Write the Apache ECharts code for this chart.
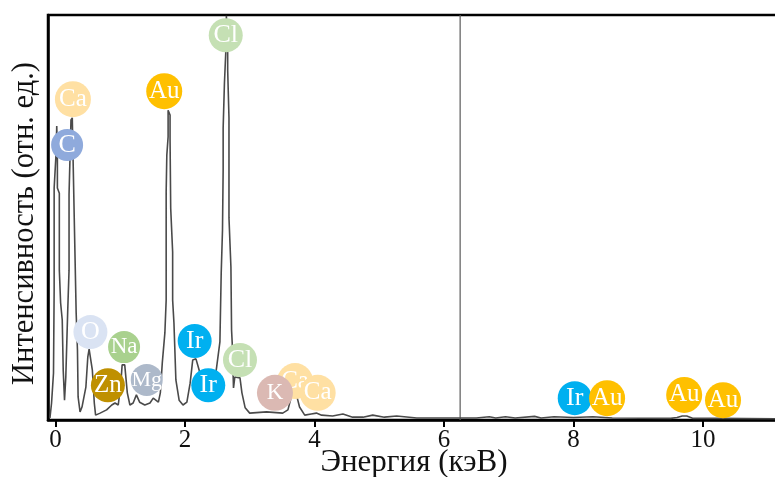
<!DOCTYPE html>
<html><head><meta charset="utf-8">
<style>html,body{margin:0;padding:0;background:#fff}#c{width:775px;height:477px}</style>
<script src="https://cdn.jsdelivr.net/npm/echarts@6/dist/echarts.min.js"></script>
</head><body><div id="c"></div>
<script>
const energy = [-0.085,-0.07,-0.06,-0.03,-0.02,-0.02,-0.02,0.01,0.01,0.02,0.03,0.03,0.03,0.06,0.06,0.07,0.08,0.105,0.12,0.14,0.16,0.19,0.21,0.21,0.24,0.24,0.26,0.29,0.29,0.32,0.32,0.34,0.35,0.38,0.41,0.47,0.50,0.52,0.55,0.57,0.60,0.62,0.69,0.79,0.87,0.92,0.97,1.01,1.03,1.07,1.11,1.15,1.20,1.25,1.30,1.38,1.46,1.51,1.59,1.62,1.65,1.69,1.71,1.71,1.71,1.72,1.74,1.74,1.74,1.77,1.77,1.78,1.81,1.81,1.83,1.86,1.91,1.97,2.03,2.08,2.12,2.17,2.22,2.29,2.37,2.45,2.49,2.54,2.56,2.58,2.59,2.59,2.61,2.63,2.63,2.64,2.66,2.66,2.66,2.68,2.68,2.71,2.72,2.73,2.75,2.77,2.85,2.88,2.93,3.0,3.26,3.51,3.59,3.63,3.65,3.68,3.71,3.73,3.77,3.85,3.95,4.03,4.11,4.28,4.44,4.59,4.75,4.90,5.08,5.27,5.58,6.50,6.70,6.80,6.95,7.10,7.40,7.50,7.70,8.00,8.30,8.60,9.50,9.60,9.68,9.75,9.85,10.2,11.19];
const intensity = [0.5,0.7,4.2,11.6,32.1,37.0,57.3,57.5,65.9,72.6,72.6,65.9,57.3,56.0,37.0,37.0,28.9,24.7,12.3,4.9,10.6,27.2,37.0,55.6,56.0,74.1,74.6,74.6,50.1,49.9,26.4,17.3,5.7,2.0,3.2,8.1,15.6,17.5,17.3,12.3,4.2,1.2,1.7,2.5,3.7,4.2,3.7,9.1,13.6,13.6,6.7,3.7,4.2,6.2,4.4,3.7,4.2,5.4,4.4,6.7,14.1,21.5,29.6,37.0,56.3,65.4,69.9,75.3,76.5,75.3,69.4,52.3,41.5,29.6,24.0,9.9,4.9,3.7,4.4,9.1,14.8,15.1,12.3,6.9,5.9,8.6,13.1,19.3,36.3,46.9,61.7,72.1,83.2,83.2,90.6,99.8,99.8,90.6,86.4,74.6,49.9,37.8,22.2,19.0,7.9,10.6,10.4,6.7,3.0,1.7,2.0,1.7,2.5,4.9,8.6,10.4,8.6,5.7,3.2,1.2,1.5,1.7,1.2,1.0,1.5,0.7,0.7,1.2,0.7,1.0,0.5,0.5,0.8,0.5,0.8,0.5,0.9,0.5,0.8,0.6,0.8,0.5,0.4,0.6,1.0,1.0,0.4,0.4,0.3];
const elementNames = ["Ca","C","Au","Cl","O","Na","Zn","Mg","Ir","Ir","Cl","Ca","K","Ca","Ir","Au","Au","Au"];
const elementEnergy = [0.27,0.18,1.68,2.63,0.54,1.06,0.81,1.41,2.15,2.36,2.85,3.70,3.39,4.05,8.02,8.52,9.71,10.31];
const elementHeight = [79.2,67.9,81.2,95.0,21.7,18.0,8.6,9.9,19.5,8.6,14.8,9.6,6.7,6.7,5.4,5.4,6.2,4.9];
const elementColors = ["#FFE0A3","#8FAADC","#FFC000","#C5E0B4","#DAE3F3","#A9D18E","#BF9000","#ADB9CA","#00B0F0","#00B0F0","#C5E0B4","#FFE0A3","#DBB9B3","#FFE0A3","#00B0F0","#FFC000","#FFC000","#FFC000"];
const elementSizes = [36,32,36,34,34,32,34,32,34,34,34,36,36,36,34,36,36,36];
const elementFonts = [25,26,25,26,26,23,25,22,26,26,26,25,23,25,26,25,25,25];
const xTickLabels = [0,2,4,6,8,10];
const referenceLine = [6.25];
const axisNames = {x:"Энергия (кэВ)", y:"Интенсивность (отн. ед.)"};

const serif = '"Liberation Serif","Times New Roman",serif';
const chart = echarts.init(document.getElementById('c'), null, {renderer:'canvas'});
const series = [
  {type:'line', data:energy.map((e,i)=>[e,intensity[i]]), showSymbol:false, symbol:'none', smooth:false,
   lineStyle:{color:'#4a4a4a',width:1.6}, z:3, silent:true},
  {type:'line', data:[[referenceLine[0],0],[referenceLine[0],100]], showSymbol:false, symbol:'none',
   lineStyle:{color:'#5a5a5a',width:1.2}, z:2, silent:true}
];
elementNames.forEach((n,i)=>{
  series.push({type:'scatter', z:10+i, silent:true,
    data:[[elementEnergy[i],elementHeight[i]]], symbol:'circle', symbolSize:elementSizes[i], clip:false,
    itemStyle:{color:elementColors[i],opacity:1},
    label:{show:true,position:'inside',formatter:n,color:'#fff',fontFamily:serif,fontSize:elementFonts[i]}});
});
chart.setOption({
  animation:false, backgroundColor:'#fff',
  grid:{left:48,right:-5,top:15,bottom:57,outerBoundsMode:'none',show:true,borderColor:'#000',borderWidth:2.5,backgroundColor:'transparent'},
  xAxis:{type:'value',min:-0.115,max:11.19,
    name:axisNames.x,nameLocation:'middle',nameGap:27,nameMoveOverlap:false,
    nameTextStyle:{fontFamily:serif,fontSize:31,color:'#111'},
    splitLine:{show:false},
    axisLine:{show:true,onZero:false,lineStyle:{color:'#000',width:2.5}},
    axisTick:{show:true,length:7,customValues:xTickLabels,lineStyle:{color:'#000',width:2}},
    axisLabel:{customValues:xTickLabels,fontFamily:serif,fontSize:25,color:'#111',margin:8}},
  yAxis:{type:'value',min:0,max:100,
    name:axisNames.y,nameLocation:'middle',nameGap:8,nameRotate:90,nameMoveOverlap:false,
    nameTextStyle:{fontFamily:serif,fontSize:30.5,color:'#111',padding:[0,12,0,0]},
    splitLine:{show:false},axisTick:{show:false},axisLabel:{show:false},
    axisLine:{show:true,onZero:false,lineStyle:{color:'#000',width:2.5}}},
  series
});
</script></body></html>
